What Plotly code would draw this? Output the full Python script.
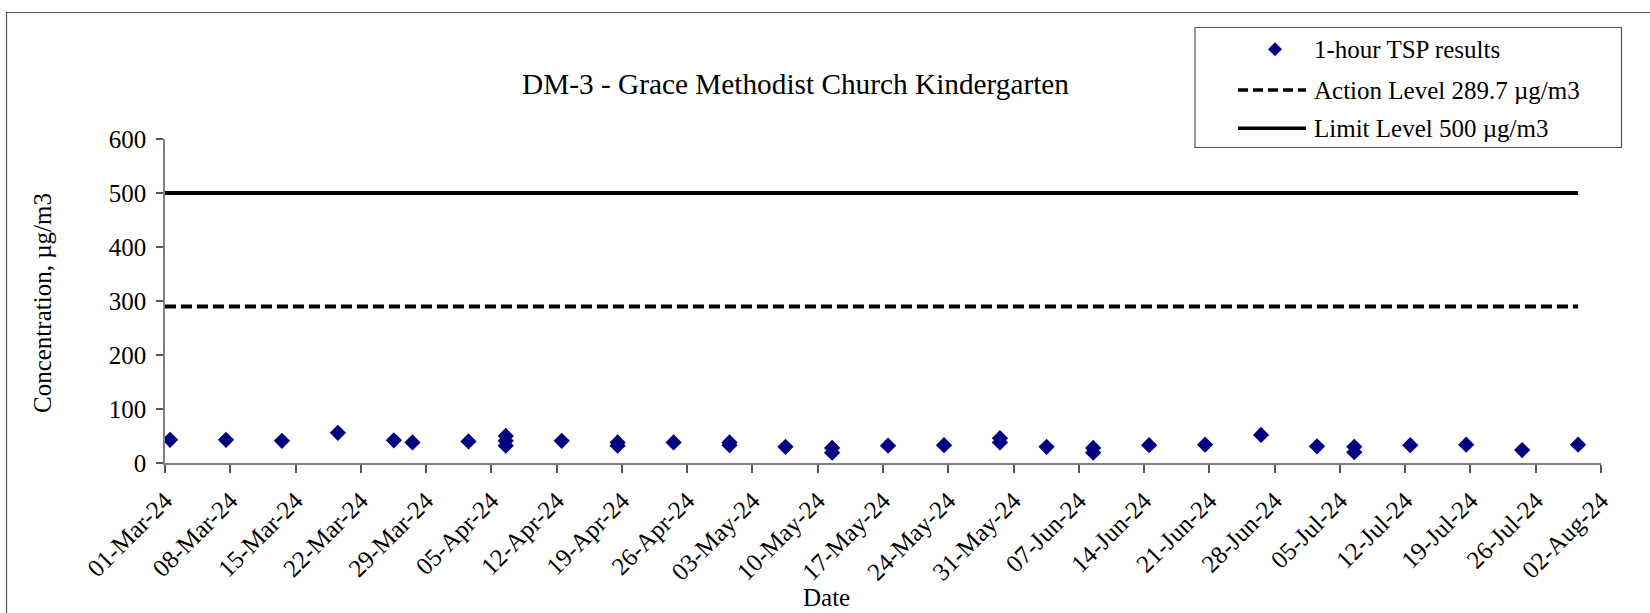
import plotly.graph_objects as go

# ---- data ----
sample_dates = [
    "2024-03-01 13:00", "2024-03-07 13:00", "2024-03-13 13:00", "2024-03-19 13:00",
    "2024-03-25 13:00", "2024-03-27 13:00", "2024-04-02 13:00",
    "2024-04-06 13:00", "2024-04-06 13:00", "2024-04-06 13:00",
    "2024-04-12 13:00", "2024-04-18 13:00", "2024-04-18 13:00",
    "2024-04-24 13:00", "2024-04-30 13:00", "2024-04-30 13:00",
    "2024-05-06 13:00", "2024-05-11 13:00", "2024-05-11 13:00",
    "2024-05-17 13:00", "2024-05-23 13:00", "2024-05-29 13:00", "2024-05-29 13:00",
    "2024-06-03 13:00", "2024-06-08 13:00", "2024-06-08 13:00",
    "2024-06-14 13:00", "2024-06-20 13:00", "2024-06-26 13:00",
    "2024-07-02 13:00", "2024-07-06 13:00", "2024-07-06 13:00",
    "2024-07-12 13:00", "2024-07-18 13:00", "2024-07-24 13:00", "2024-07-30 13:00",
]
tsp_values = [
    43, 43, 41, 56,
    42, 38, 40,
    50, 41, 32,
    41, 38, 32,
    38, 38, 33,
    30, 28, 19,
    32, 33, 46, 38,
    30, 28, 19,
    33, 34, 52,
    31, 30, 20,
    33, 34, 24, 34,
]
level_dates = ["2024-03-01 00:00", "2024-07-30 13:00"]
action_level = 289.7
limit_level = 500

title_text = "DM-3 - Grace Methodist Church Kindergarten"
legend_labels = ["1-hour TSP results", "Action Level 289.7 µg/m3", "Limit Level 500 µg/m3"]
x_title = "Date"
y_title = "Concentration, µg/m3"

# ---- geometry helpers (pixels -> paper) ----
W, H = 1650, 613
ML, MR, MT, MB = 165, 49, 139, 150
PW = W - ML - MR
PH = H - MT - MB


def px(x):
    return (x - ML) / PW


def py(y):
    return (H - MB - y) / PH


FONT = "Liberation Serif, Times New Roman, serif"
NAVY = "#000080"

fig = go.Figure()
fig.add_trace(go.Scatter(
    x=sample_dates, y=tsp_values, mode="markers", name=legend_labels[0],
    marker=dict(symbol="diamond", size=12.5, color=NAVY, line=dict(width=0)),
    showlegend=False,
))
fig.add_trace(go.Scatter(
    x=level_dates, y=[action_level] * len(level_dates), mode="lines", name=legend_labels[1],
    line=dict(color="black", width=4, dash="11px,5px"), showlegend=False,
))
fig.add_trace(go.Scatter(
    x=level_dates, y=[limit_level] * len(level_dates), mode="lines", name=legend_labels[2],
    line=dict(color="black", width=4), showlegend=False,
))

shapes = []
annotations = []

# outer frame
shapes.append(dict(type="rect", xref="paper", yref="paper",
                   x0=px(6.5), x1=px(1700), y0=py(12.5), y1=py(700),
                   line=dict(color="#555555", width=1.2), fillcolor="rgba(0,0,0,0)", layer="below"))

# legend box
shapes.append(dict(type="rect", xref="paper", yref="paper",
                   x0=px(1195), x1=px(1621.5), y0=py(27.5), y1=py(147.5),
                   line=dict(color="#555555", width=1.2), fillcolor="white"))
rows = [49.3, 90, 128.3]
# diamond marker in legend
cx, cy, r = 1275, rows[0], 7
shapes.append(dict(type="path", xref="paper", yref="paper",
                   path=f"M {px(cx)} {py(cy - r)} L {px(cx + r)} {py(cy)} L {px(cx)} {py(cy + r)} L {px(cx - r)} {py(cy)} Z",
                   fillcolor=NAVY, line=dict(width=0)))
shapes.append(dict(type="line", xref="paper", yref="paper",
                   x0=px(1238), x1=px(1306), y0=py(rows[1]), y1=py(rows[1]),
                   line=dict(color="black", width=3.5, dash="10px,5px")))
shapes.append(dict(type="line", xref="paper", yref="paper",
                   x0=px(1238), x1=px(1306), y0=py(rows[2]), y1=py(rows[2]),
                   line=dict(color="black", width=3.5)))
for lab, ry in zip(legend_labels, rows):
    annotations.append(dict(text=lab, xref="paper", yref="paper", x=px(1312), y=py(ry),
                            xanchor="left", yanchor="middle", showarrow=False,
                            font=dict(family=FONT, size=25, color="black")))

# title & axis titles
annotations.append(dict(text=title_text, xref="paper", yref="paper", x=px(795), y=py(84),
                        xanchor="center", yanchor="middle", showarrow=False,
                        font=dict(family=FONT, size=29.3, color="black")))
annotations.append(dict(text=x_title, xref="paper", yref="paper", x=px(826), y=py(597),
                        xanchor="center", yanchor="middle", showarrow=False,
                        font=dict(family=FONT, size=25, color="black")))
annotations.append(dict(text=y_title, xref="paper", yref="paper", x=px(42), y=py(303),
                        xanchor="center", yanchor="middle", showarrow=False, textangle=-90,
                        font=dict(family=FONT, size=25, color="black")))

fig.update_layout(
    width=W, height=H,
    margin=dict(l=ML, r=MR, t=MT, b=MB, pad=0),
    paper_bgcolor="white", plot_bgcolor="white",
    font=dict(family=FONT, size=25, color="black"),
    shapes=shapes, annotations=annotations,
    showlegend=False,
    xaxis=dict(
        type="date", range=["2024-03-01", "2024-08-02"],
        tick0="2024-03-01", dtick=7 * 86400000, tickformat="%d-%b-%y",
        tickangle=-45, ticks="outside", ticklen=8, tickwidth=1.5, tickcolor="#555555",
        ticklabelstandoff=3,
        showline=True, linecolor="#808080", linewidth=2,
        showgrid=False, zeroline=False,
        tickfont=dict(family=FONT, size=25, color="black"),
    ),
    yaxis=dict(
        range=[0, 600], dtick=100, ticks="outside", ticklen=7, tickwidth=1.5, tickcolor="#555555",
        ticklabelstandoff=5,
        showline=True, linecolor="#808080", linewidth=1.5,
        showgrid=False, zeroline=False,
        tickfont=dict(family=FONT, size=25, color="black"),
    ),
)

fig.write_html("out.html", config={"displayModeBar": False},
               post_script="document.body.style.margin='0';document.body.style.overflow='hidden';")
